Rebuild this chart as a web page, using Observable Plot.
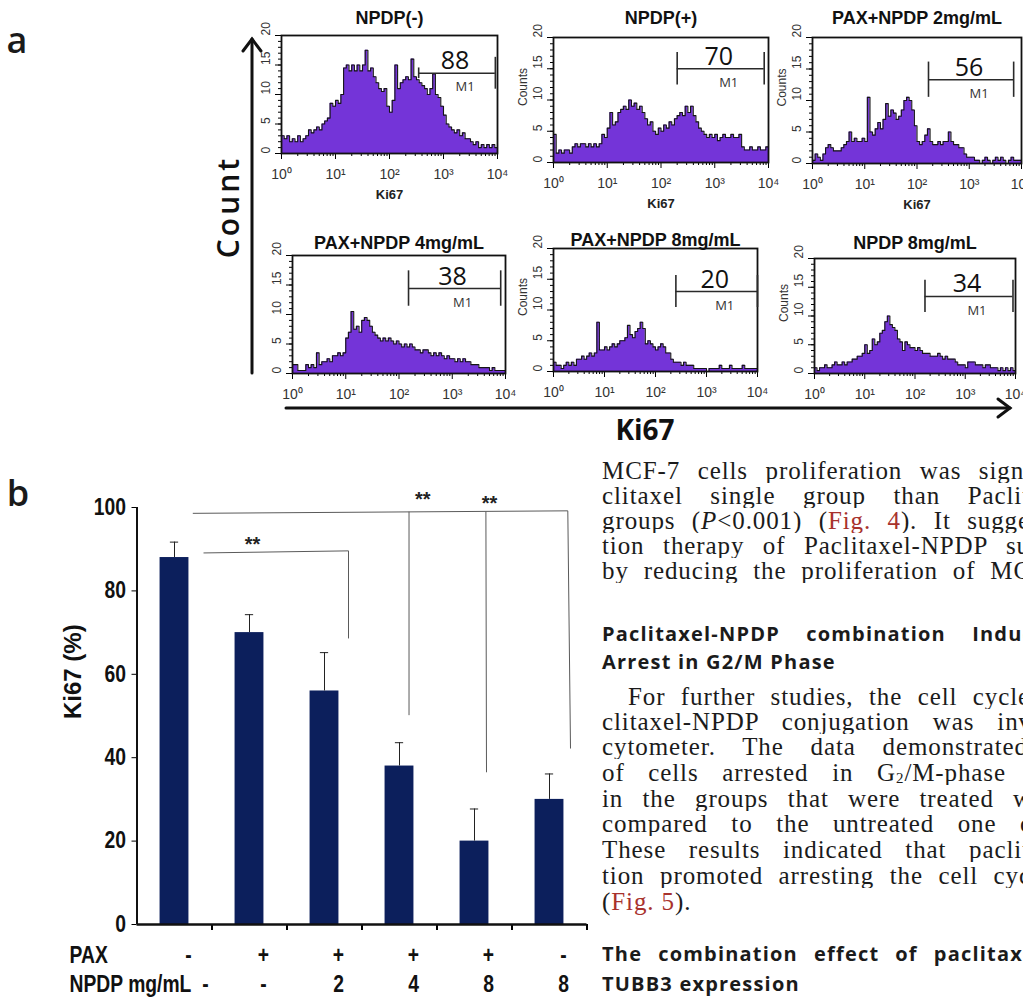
<!DOCTYPE html>
<html><head><meta charset="utf-8">
<script src="https://cdn.jsdelivr.net/npm/d3@7"></script>
<script src="https://cdn.jsdelivr.net/npm/@observablehq/plot@0.6"></script>
<style>
html,body{margin:0;padding:0;background:#fff;overflow:hidden;}
#page{position:relative;width:1023px;height:1000px;overflow:hidden;background:#fff;}
#page svg{position:absolute;}
.ln{position:absolute;left:602px;font:25px/25px "Liberation Serif",serif;letter-spacing:0.9px;color:#1b1b1b;white-space:nowrap;height:25px;}
.j{text-align:justify;text-align-last:justify;white-space:normal;overflow:hidden;}
.h{font:bold 20px/25px "Open Sans",sans-serif;letter-spacing:1.2px;color:#1b1b1b;}
.red{color:#a8322d;}
</style></head>
<body><div id="page">
<div class="ln j" style="top:458px;width:430px">MCF-7 cells proliferation was signi</div>
<div class="ln j" style="top:483px;width:428px">clitaxel single group than Paclit</div>
<div class="ln j" style="top:508px;width:428px">groups (<i>P</i>&lt;0.001) (<span class="red">Fig. 4</span>). It sugge</div>
<div class="ln j" style="top:533px;width:428px">tion therapy of Paclitaxel-NPDP su</div>
<div class="ln j" style="top:558px;width:429px">by reducing the proliferation of MC</div>
<div class="ln j h" style="top:621px;width:432px">Paclitaxel-NPDP combination Induc</div>
<div class="ln h" style="top:649px;">Arrest in G2/M Phase</div>
<div class="ln j" style="top:684px;left:628px;width:402px">For further studies, the cell cycle</div>
<div class="ln j" style="top:709px;width:430px">clitaxel-NPDP conjugation was inv</div>
<div class="ln j" style="top:734px;width:426px">cytometer. The data demonstrated</div>
<div class="ln j" style="top:760px;width:404px">of cells arrested in G<sub style="font-size:15px;line-height:0;vertical-align:-2px">2</sub>/M-phase</div>
<div class="ln j" style="top:786px;width:430px">in the groups that were treated w</div>
<div class="ln j" style="top:811px;width:430px">compared to the untreated one c</div>
<div class="ln j" style="top:837px;width:428px">These results indicated that paclit</div>
<div class="ln j" style="top:863px;width:429px">tion promoted arresting the cell cyc</div>
<div class="ln" style="top:889px;">(<span class="red">Fig. 5</span>).</div>
<div class="ln j h" style="top:941px;width:434px">The combination effect of paclitaxe</div>
<div class="ln h" style="top:971px;">TUBB3 expression</div>
</div>
<script>
// ---------- DATA ----------
const histTitles = ["NPDP(-)", "NPDP(+)", "PAX+NPDP 2mg/mL", "PAX+NPDP 4mg/mL", "PAX+NPDP 8mg/mL", "NPDP 8mg/mL"];
const histPercents = [88, 70, 56, 38, 20, 34];
// Ki67 fluorescence histograms: counts per bin, 80 equal log bins from 10^0 to 10^4
const histNPDPneg = [3,2.5,3,2,2.5,2,3,2,2.5,3, 4,3.5,4,4.5,4,5,5.5,6,8.5,8, 9,8.5,10,14.5,15,14,15,14,15,14, 15,17.5,14,14.5,13,12,11,10.5,11,8, 7,9,15,11,12,12.5,13,12.5,16,13, 12.5,12,11.5,11,10,11,13.5,10,9.5,8, 6.5,5,4.5,4,3.5,4,3,3.5,2.5,2.5, 2,1.5,2,1,1.5,1,1.5,1,1.5,1];
const histNPDPpos = [4.5,1.5,2,1.5,2,2,1.5,2.5,3,2.5, 3,3,2.5,3,2.5,3,2.5,3,4.5,4, 5.5,8,6,6.5,8,8.5,9,8.5,10,9, 9.5,8.5,9,8,7,6,6.5,5,4.5,5.5, 5,6,5.5,6.5,6,7,7.5,8,7.5,9, 8,9,7.5,6.5,5.5,5,4.5,4,4.5,4, 4.5,3.5,4,4.5,4,4,4.5,4,4,4.5, 2.5,2,2,2.5,2,2,2.5,2,2,2.5];
const histPax2 = [0.5,1.5,1,0.5,1.5,2.5,3,2.5,2,2, 2,2.5,3,3.5,5,3.5,4,3.5,3.5,4, 3.5,10.5,5,4.5,5.5,6.5,5.5,7,9.5,7.5, 8.5,8,7,7.5,8.5,10,10.5,10,8.5,6, 3.5,3,3.5,4.5,5.5,3.5,3,3,3.5,3, 3.5,3.5,5,3.5,3,3,2.5,2.5,1.5,1, 1,1,0.5,0.5,0,0.5,1,0.5,0,0.5, 1,0.5,1,0.5,0,0.5,1,0.5,0.5,0.5];
const histPax4 = [1.5,1.5,0.5,0.5,0.5,1.5,1,1.5,1,3.5, 1.5,2,2,2.5,2,3,3,3.5,3,3.5, 6,7,10.5,7.5,8,7,9,9.5,9,8, 7,6.5,6,5.5,6,5.5,6,5.5,5,5.5, 5,4.5,5,4.5,5,4.5,4,4,3.5,4, 4,3.5,3,3.5,3,3.5,3,2.5,3,2.5, 2.5,2,2.5,2,2.5,2,2,1.5,1.5,1.5, 1,1,1,1,0.5,1,0.5,0.5,0.5,0.5];
const histPax8 = [1.5,1,1,0.5,1,1.5,1,1.5,1,2, 2,2.5,2,2.5,3,2.5,3,8,3.5,3.5, 4,3.5,4,4.5,4,4.5,5,5,5.5,7.5, 6,5.5,6.5,7,8,7,4.5,5,4.5,4, 3.5,4,4.5,4,3,3,2,1.5,1.5,1.5, 1,1.5,1,1,1,0.5,0.5,0.5,0.5,0.5, 0,0.5,0.5,0.5,0.5,1,0.5,0.5,0.5,1, 0.5,0.5,0.5,0.5,1,0.5,0.5,0.5,0.5,0.5];
const histNPDP8 = [1,0.5,1,1,1.5,1,1,1.5,2,1.5, 1.5,2,1.5,2,2,2.5,2.5,3,3,3.5, 5,3.5,4,6,5,5.5,7,7.5,9,10, 8.5,8,7.5,6,5.5,4,5.5,5,4.5,4.5, 4,4.5,4,3.5,3.5,3.5,3,3,3,3.5, 3,2.5,3,2.5,2.5,2.5,2,1.5,1.5,1.5, 1,2,2,2,1.5,1.5,1.5,1,1.5,1.5, 1,1,1,0.5,1,0.5,1,0.5,1,0.5];
const histCounts = [histNPDPneg, histNPDPpos, histPax2, histPax4, histPax8, histNPDP8];
// M1 gates (Ki67 intensity range, count level of the marker)
const gateLow = [347, 200, 166, 151, 251, 158];
const gateHigh = [9120, 8318, 7079, 8128, 10000, 8913];
const gateLevel = [13.6, 15, 13.3, 14.4, 13, 13.4];
const histYTicks = [0, 5, 10, 15, 20];
const histXTicks = [1, 10, 100, 1000, 10000];
const histXTickLabels = ["10\u2070", "10\u00b9", "10\u00b2", "10\u00b3", "10\u2074"];

// Panel b bar chart
const groupIndex = [1, 2, 3, 4, 5, 6];
const ki67Percent = [88, 70, 56, 38, 20, 30];
const ki67Err = [3.7, 4.3, 9.2, 5.6, 7.7, 6.1];
const paxRow = ["-", "+", "+", "+", "+", "-"];
const npdpRow = ["-", "-", "2", "4", "8", "8"];
const barYTicks = [0, 20, 40, 60, 80, 100];
const sigLinks = [
  {x1: 1.244, y1: 98.6, x2: 6.244, y2: 99.2},
  {x1: 4.127, y1: 99.0, x2: 4.127, y2: 50.2},
  {x1: 5.152, y1: 99.05, x2: 5.16, y2: 36.5},
  {x1: 6.244, y1: 99.2, x2: 6.28, y2: 42.2},
  {x1: 1.387, y1: 89.1, x2: 3.32, y2: 89.6},
  {x1: 3.32, y1: 89.6, x2: 3.32, y2: 68.6}
];
const sigStars = [{x: 2.04, y: 91.2}, {x: 4.31, y: 101.8}, {x: 5.20, y: 100.9}];

// ---------- LAYOUT ----------
const page = document.getElementById("page");
const PURPLE = "#7434d8";
const NAVY = "#0c1f5c";
const minorX = [];
for (let k = 0; k < 4; k++) for (let m = 2; m < 10; m++) minorX.push(m * 10 ** k);

const frames = [
  {L: 281, T: 35, W: 216, H: 118, titleY: 18, counts: false, xlabel: true, hL: 0.9, hR: 2.7},
  {L: 553, T: 37, W: 215, H: 125, titleY: 18, counts: true, xlabel: true, hL: 2.6, hR: 2.6},
  {L: 812, T: 37, W: 209, H: 126, titleY: 18, counts: true, xlabel: true, hL: 2.8, hR: 2.8},
  {L: 292, T: 255, W: 213, H: 118, titleY: 243, counts: false, xlabel: false, hL: 3, hR: 3},
  {L: 553, T: 248, W: 204, H: 123, titleY: 240, counts: true, xlabel: false, hL: 2.6, hR: 2.6},
  {L: 814, T: 258, W: 201, H: 115, titleY: 243, counts: true, xlabel: false, hL: 2.8, hR: 2.8}
];

function histogram(k) {
  const f = frames[k];
  const counts = histCounts[k];
  const n = counts.length;
  const pts = counts.map((c, i) => ({x: 10 ** (4 * i / n), y: c}));
  pts.push({x: 1e4, y: counts[n - 1]});
  const gate = {x1: gateLow[k], x2: gateHigh[k], y: gateLevel[k]};
  const gc = {x: Math.sqrt(gate.x1 * gate.x2), y: gate.y};
  const ends = [{x: gate.x1, y1: gate.y - f.hL, y2: gate.y + f.hL}, {x: gate.x2, y1: gate.y - f.hR, y2: gate.y + f.hR}];
  const mL = 55, mT = 32, mR = 8, mB = 55;
  const marks = [
    Plot.areaY(pts, {x: "x", y: "y", curve: "step-after", fill: PURPLE}),
    Plot.line(pts, {x: "x", y: "y", curve: "step-after", stroke: "#151515", strokeWidth: 1.1}),
    Plot.axisX({ticks: minorX, tickFormat: () => "", tickSize: 3, label: null}),
    Plot.axisX({ticks: histXTicks, tickFormat: () => "", tickSize: 6, label: null}),
    Plot.text(histXTicks, {x: d => d, text: (d, i) => histXTickLabels[i], frameAnchor: "bottom", lineAnchor: "middle", dy: 21, fontSize: 14, fill: "#333"}),
    Plot.axisY({ticks: d3.range(0, 21), tickFormat: () => "", tickSize: 3, label: null}),
    Plot.axisY({ticks: histYTicks, tickFormat: () => "", tickSize: 6, label: null}),
    Plot.text(histYTicks, {y: d => d, text: d => String(d), frameAnchor: "left", rotate: -90, dx: -15, fontSize: 12, fill: "#333"}),
    Plot.frame({stroke: "#111", strokeWidth: 1.8}),
    Plot.ruleY([gate], {x1: "x1", x2: "x2", y: "y", stroke: "#2a2a2a", strokeWidth: 1.6}),
    Plot.ruleX(ends, {x: "x", y1: "y1", y2: "y2", stroke: "#2a2a2a", strokeWidth: 1.6}),
    Plot.text([gc], {x: "x", y: "y", text: () => String(histPercents[k]), dx: -2, dy: -12, fontSize: 25, fontFamily: "'Open Sans', sans-serif", fill: "#111"}),
    Plot.text([gc], {x: "x", y: "y", text: () => "M1", dx: 8, dy: 14, fontSize: 13, fontFamily: "'Open Sans', sans-serif", fill: "#333"}),
    Plot.text([histTitles[k]], {text: d => d, frameAnchor: "top", lineAnchor: "middle", dy: f.titleY - f.T, fontSize: 18, fontWeight: "bold", fill: "#111"})
  ];
  if (f.counts) marks.push(Plot.text(["Counts"], {text: d => d, frameAnchor: "left", dx: -30, dy: 6, rotate: -90, fontSize: 12, fill: "#333"}));
  if (f.xlabel) marks.push(Plot.text(["Ki67"], {text: d => d, frameAnchor: "bottom", lineAnchor: "middle", dy: 41, fontSize: 13, fontWeight: "bold", fill: "#222"}));
  const svg = Plot.plot({
    width: f.W + mL + mR, height: f.H + mT + mB,
    marginLeft: mL, marginRight: mR, marginTop: mT, marginBottom: mB,
    x: {type: "log", domain: [1, 1e4], label: null},
    y: {domain: [0, 20], label: null},
    style: {background: "transparent", fontFamily: "'Liberation Sans', Arial, sans-serif", overflow: "visible"},
    marks
  });
  svg.style.left = (f.L - mL) + "px";
  svg.style.top = (f.T - mT) + "px";
  page.appendChild(svg);
}
for (let k = 0; k < 6; k++) histogram(k);

// ---------- Panel b ----------
const bars = groupIndex.map((g, i) => ({g, v: ki67Percent[i], e: ki67Err[i], pax: paxRow[i], npdp: npdpRow[i]}));
const halfBar = 0.1925, halfCap = 0.055;
const bFont = "'Liberation Sans Narrow', 'Liberation Sans', Arial, sans-serif";
const bText = {fontSize: 23, fontWeight: "bold", fontFamily: bFont, fill: "#111"};
const barSvg = Plot.plot({
  width: 600, height: 530,
  marginLeft: 136.5, marginRight: 13.5, marginTop: 37, marginBottom: 76,
  x: {domain: [0.5, 6.5], label: null},
  y: {domain: [0, 100], label: null},
  style: {background: "transparent", fontFamily: "'Liberation Sans', Arial, sans-serif", overflow: "visible"},
  marks: [
    Plot.link(sigLinks, {x1: "x1", y1: "y1", x2: "x2", y2: "y2", stroke: "#5a5a5a", strokeWidth: 1}),
    Plot.text(sigStars, {x: "x", y: "y", text: () => "**", fontSize: 20, fontWeight: "bold", fill: "#222", letterSpacing: 2}),
    Plot.rectY(bars, {x1: d => d.g - halfBar, x2: d => d.g + halfBar, y: "v", fill: NAVY}),
    Plot.ruleX(bars, {x: "g", y1: "v", y2: d => d.v + d.e, stroke: "#222", strokeWidth: 1}),
    Plot.ruleY(bars, {y: d => d.v + d.e, x1: d => d.g - halfCap, x2: d => d.g + halfCap, stroke: "#222", strokeWidth: 1}),
    Plot.axisY({ticks: barYTicks, tickSize: 5, tickPadding: 6, ...bText, label: null}),
    Plot.axisX({ticks: d3.range(1.5, 7), tickFormat: () => "", tickSize: 6, strokeWidth: 2, label: null}),
    Plot.ruleX([0.5], {stroke: "#111", strokeWidth: 2}),
    Plot.ruleY([0], {stroke: "#111", strokeWidth: 2.5}),
    Plot.text(bars, {x: "g", text: "pax", frameAnchor: "bottom", lineAnchor: "middle", dx: 14, dy: 31, ...bText}),
    Plot.text(bars.slice(0, 1), {x: "g", text: "npdp", frameAnchor: "bottom", lineAnchor: "middle", dx: 31, dy: 60, ...bText}),
    Plot.text(bars.slice(1), {x: "g", text: "npdp", frameAnchor: "bottom", lineAnchor: "middle", dx: 14, dy: 60, ...bText}),
    Plot.text(["PAX"], {text: d => d, frameAnchor: "bottom-left", lineAnchor: "middle", textAnchor: "start", dx: -67.5, dy: 31, ...bText}),
    Plot.text(["NPDP mg/mL"], {text: d => d, frameAnchor: "bottom-left", lineAnchor: "middle", textAnchor: "start", dx: -67.5, dy: 60, ...bText}),
    Plot.text(["Ki67 (%)"], {text: d => d, frameAnchor: "left", dx: -63.5, dy: 3, rotate: -90, fontSize: 24, fontWeight: "bold", fill: "#111"})
  ]
});
barSvg.style.left = "0px";
barSvg.style.top = "470px";
page.appendChild(barSvg);
// condensed look of the panel-b labels (narrow bold face)
d3.select(barSvg).selectAll("g[font-family*='Narrow'] text").each(function () {
  const t = this.getAttribute("transform");
  if (t) this.setAttribute("transform", t + " scale(0.84,1)");
  else {
    const x = +this.getAttribute("x") || 0, y = +this.getAttribute("y") || 0;
    this.removeAttribute("x"); this.removeAttribute("y");
    this.setAttribute("transform", `translate(${x},${y}) scale(0.84,1)`);
  }
});

// ---------- figure annotations (panel letters, shared axes) ----------
const ov = d3.select(page).append("svg").attr("width", 1023).attr("height", 1000)
  .style("left", "0px").style("top", "0px").style("pointer-events", "none");
ov.append("text").attr("x", 17).attr("y", 53).attr("text-anchor", "middle")
  .attr("font-family", "'Open Sans', sans-serif").attr("font-weight", 600).attr("font-size", 36).attr("fill", "#1a1a1a").text("a");
ov.append("text").attr("x", 18).attr("y", 506).attr("text-anchor", "middle")
  .attr("font-family", "'Open Sans', sans-serif").attr("font-weight", 600).attr("font-size", 36).attr("fill", "#1a1a1a").text("b");
ov.append("text").attr("transform", "translate(227,207) rotate(-90)").attr("text-anchor", "middle").attr("dominant-baseline", "central")
  .attr("font-family", "'Open Sans', sans-serif").attr("font-weight", 600).attr("font-size", 30).attr("letter-spacing", 3).attr("fill", "#111").text("Count");
ov.append("text").attr("x", 645).attr("y", 440).attr("text-anchor", "middle")
  .attr("font-family", "'Open Sans', sans-serif").attr("font-weight", 700).attr("font-size", 28).attr("fill", "#111").text("Ki67");
const arrow = ov.append("g").attr("stroke", "#111").attr("stroke-width", 3).attr("fill", "none").attr("stroke-linecap", "round");
arrow.append("line").attr("x1", 252).attr("y1", 373).attr("x2", 252).attr("y2", 39);
arrow.append("polyline").attr("points", "243,51 252,39 261,51");
arrow.append("line").attr("x1", 286).attr("y1", 408).attr("x2", 1010).attr("y2", 408);
arrow.append("polyline").attr("points", "998,399 1010,408 998,417");
</script>
</body></html>
